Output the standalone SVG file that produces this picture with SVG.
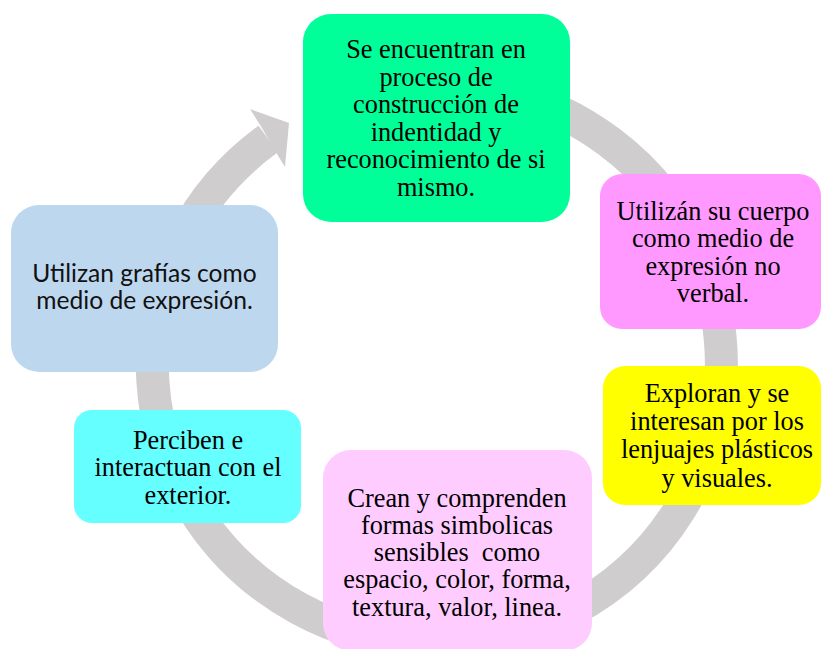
<svg xmlns="http://www.w3.org/2000/svg" width="821" height="649" viewBox="0 0 821 649">
<style>
.box{stroke:none}
.t{font-family:"Liberation Serif","Times New Roman",serif;font-size:26.3px;fill:#000;text-anchor:middle}
.s{font-family:Lato,"Liberation Sans",sans-serif;font-size:24.6px;fill:#111;text-anchor:middle}
.ring{fill:none;stroke:#CFCDCE;stroke-width:33;stroke-linecap:butt}
</style>
<rect width="821" height="649" fill="#fff"/>
<g id="connectors">
<path class="ring" d="M 339.7 101.4 A 284.5 279.5 0 1 1 268.2 139.0"/>
<polygon points="250,109 289,123 285,167 274,149 262,128" fill="#CFCDCE"/>
</g>
<g id="node-identidad">
<rect class="box" x="303" y="14" width="267" height="208" rx="28" fill="#00FF99"/>
<text class="t"><tspan x="436" y="58">Se encuentran en</tspan><tspan x="436" y="85.5">proceso de</tspan><tspan x="436" y="113">construcción de</tspan><tspan x="436" y="140.5">indentidad y</tspan><tspan x="436" y="168">reconocimiento de si</tspan><tspan x="436" y="195.5">mismo.</tspan></text>
</g>
<g id="node-cuerpo">
<rect class="box" x="600" y="174" width="221" height="155" rx="22" fill="#FF99FF"/>
<text class="t"><tspan x="713" y="219.5">Utilizán su cuerpo</tspan><tspan x="713" y="247">como medio de</tspan><tspan x="713" y="274.5">expresión no</tspan><tspan x="713" y="302">verbal.</tspan></text>
</g>
<g id="node-lenguajes">
<rect class="box" x="603" y="366" width="218" height="139" rx="22" fill="#FFFF00"/>
<text class="t"><tspan x="717" y="401.5">Exploran y se</tspan><tspan x="717" y="430">interesan por los</tspan><tspan x="717" y="458">lenjuajes plásticos</tspan><tspan x="717" y="486.5">y visuales.</tspan></text>
</g>
<g id="node-formas">
<rect class="box" x="323" y="450" width="269" height="201" rx="28" fill="#FFCCFF"/>
<text class="t"><tspan x="457" y="506.5">Crean y comprenden</tspan><tspan x="457" y="533.5">formas simbolicas</tspan><tspan x="457" y="561" xml:space="preserve">sensibles  como</tspan><tspan x="457" y="588">espacio, color, forma,</tspan><tspan x="457" y="615.5">textura, valor, linea.</tspan></text>
</g>
<g id="node-exterior">
<rect class="box" x="74" y="410" width="227" height="113" rx="18" fill="#66FFFF"/>
<text class="t"><tspan x="188" y="448.5">Perciben e</tspan><tspan x="188" y="476">interactuan con el</tspan><tspan x="188" y="503.5">exterior.</tspan></text>
</g>
<g id="node-grafias">
<rect class="box" x="11" y="205" width="267" height="167" rx="28" fill="#BDD7EE"/>
<text class="s"><tspan x="144.5" y="282">Utilizan grafías como</tspan><tspan x="144.5" y="309">medio de expresión.</tspan></text>
</g>
</svg>
